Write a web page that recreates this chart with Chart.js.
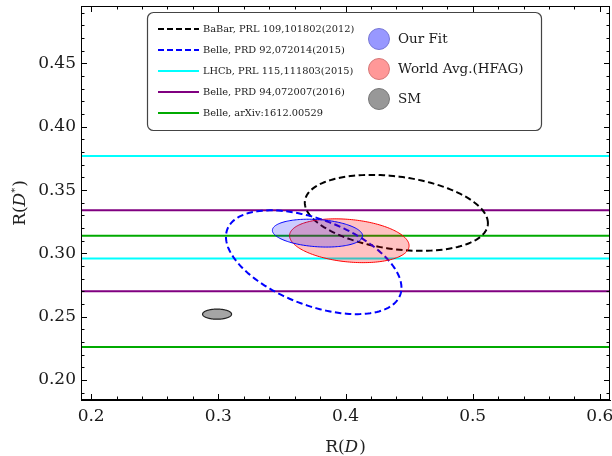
<!DOCTYPE html>
<html>
<head>
<meta charset="utf-8">
<script src="https://cdn.jsdelivr.net/npm/chart.js@4.4.0/dist/chart.umd.min.js"></script>
<style>
html,body{margin:0;padding:0;background:#fff;}
#wrap{position:relative;width:612px;height:456px;}
</style>
</head>
<body>
<div id="wrap"><canvas id="c" width="612" height="456"></canvas></div>
<script>
// ---- axis tick labels ----
const xTickValues = [0.2, 0.3, 0.4, 0.5, 0.6];
const yTickValues = [0.20, 0.25, 0.30, 0.35, 0.40, 0.45];

// ---- horizontal measurement bands (R(D*) lower / upper edges) ----
const lhcbBand = [0.296, 0.377];
const belle2016Band = [0.270, 0.334];
const belle2017Band = [0.226, 0.314];

// ---- legend texts ----
const lineLegendLabels = ['BaBar, PRL 109,101802(2012)', 'Belle, PRD 92,072014(2015)', 'LHCb, PRL 115,111803(2015)', 'Belle, PRD 94,072007(2016)', 'Belle, arXiv:1612.00529'];
const blobLegendLabels = ['Our Fit', 'World Avg.(HFAG)', 'SM'];

// ---- 1-sigma ellipses: centre, sigma, correlation ----
const ellipseNames  = ['BaBar', 'Belle 2015', 'World Avg.(HFAG)', 'Our Fit', 'SM'];
const ellipseRD     = [0.440, 0.375, 0.403, 0.378, 0.299];
const ellipseRDs    = [0.332, 0.293, 0.310, 0.316, 0.252];
const ellipseSigRD  = [0.072, 0.069, 0.047, 0.0355, 0.0114];
const ellipseSigRDs = [0.030, 0.041, 0.0173, 0.011, 0.004];
const ellipseRho    = [-0.27, -0.49, -0.23, -0.2, 0];

const X_MIN = 0.192, X_MAX = 0.608, Y_MIN = 0.1842, Y_MAX = 0.4954;
const FONT = "'DejaVu Serif', serif";

function hline(v, color) {
  return { data: [{x: X_MIN, y: v}, {x: X_MAX, y: v}], borderColor: color, borderWidth: 2, pointRadius: 0, fill: false };
}

const ellipseStyles = [
  {stroke: '#000', width: 2, dash: [6.5, 3.5], fill: null},
  {stroke: '#0000ff', width: 2, dash: [6.5, 3.5], fill: null},
  {stroke: '#ff0000', width: 1, dash: [], fill: 'rgba(255,0,0,0.24)'},
  {stroke: '#0000ff', width: 1, dash: [], fill: 'rgba(0,0,255,0.2)'},
  {stroke: '#222', width: 1.2, dash: [], fill: 'rgb(165,165,165)'}
];

function ellipsePath(ctx, xs, ys, i) {
  const cx = ellipseRD[i], cy = ellipseRDs[i], sx = ellipseSigRD[i], sy = ellipseSigRDs[i], r = ellipseRho[i];
  const q = Math.sqrt(1 - r * r);
  ctx.beginPath();
  const N = 180;
  for (let k = 0; k <= N; k++) {
    const t = 2 * Math.PI * k / N;
    const x = cx + sx * Math.cos(t);
    const y = cy + sy * (r * Math.cos(t) + q * Math.sin(t));
    const px = xs.getPixelForValue(x), py = ys.getPixelForValue(y);
    if (k === 0) ctx.moveTo(px, py); else ctx.lineTo(px, py);
  }
  ctx.closePath();
}

const ellipsePlugin = {
  id: 'ellipses',
  afterDatasetsDraw(chart) {
    const ctx = chart.ctx, xs = chart.scales.x, ys = chart.scales.y, a = chart.chartArea;
    ctx.save();
    ctx.beginPath(); ctx.rect(a.left, a.top, a.right - a.left, a.bottom - a.top); ctx.clip();
    for (let i = 0; i < ellipseNames.length; i++) {
      const st = ellipseStyles[i];
      ellipsePath(ctx, xs, ys, i);
      if (st.fill) { ctx.fillStyle = st.fill; ctx.fill(); }
      ctx.setLineDash(st.dash);
      ctx.lineWidth = st.width;
      ctx.strokeStyle = st.stroke;
      ctx.stroke();
    }
    ctx.restore();
  }
};

const framePlugin = {
  id: 'frame',
  afterDraw(chart) {
    const ctx = chart.ctx, xs = chart.scales.x, ys = chart.scales.y, a = chart.chartArea;
    ctx.save();
    ctx.strokeStyle = '#000';
    ctx.lineWidth = 1;
    ctx.strokeRect(a.left + 0.5, a.top + 0.5, a.right - a.left - 1, a.bottom - a.top - 1);
    ctx.beginPath();
    // x ticks (inward, bottom and top)
    for (let k = -1; ; k++) {
      const v = 0.2 + k * 0.02;
      if (v > X_MAX) break;
      if (v < X_MIN) continue;
      const major = ((k % 5) + 5) % 5 === 0;
      const len = major ? 6 : 3.5;
      const px = Math.round(xs.getPixelForValue(v)) + 0.5;
      ctx.moveTo(px, a.bottom); ctx.lineTo(px, a.bottom - len);
      ctx.moveTo(px, a.top); ctx.lineTo(px, a.top + len);
    }
    // y ticks (inward, left and right)
    for (let k = -1; ; k++) {
      const v = 0.20 + k * 0.01;
      if (v > Y_MAX) break;
      if (v < Y_MIN) continue;
      const major = ((k % 5) + 5) % 5 === 0;
      const len = major ? 6 : 3.5;
      const py = Math.round(ys.getPixelForValue(v)) + 0.5;
      ctx.moveTo(a.left, py); ctx.lineTo(a.left + len, py);
      ctx.moveTo(a.right, py); ctx.lineTo(a.right - len, py);
    }
    ctx.stroke();

    // axis titles
    ctx.fillStyle = '#222';
    ctx.textBaseline = 'alphabetic';
    const fs = 17;
    function drawParts(parts, startX, baseY) {
      let x = startX;
      for (const p of parts) {
        ctx.font = (p.it ? 'italic ' : '') + (p.size || fs) + 'px ' + FONT;
        ctx.fillText(p.t, x, baseY + (p.dy || 0));
        x += ctx.measureText(p.t).width + (p.gap || 0);
      }
    }
    function widthParts(parts) {
      let w = 0;
      for (const p of parts) {
        ctx.font = (p.it ? 'italic ' : '') + (p.size || fs) + 'px ' + FONT;
        w += ctx.measureText(p.t).width + (p.gap || 0);
      }
      return w;
    }
    const xTitle = [{t: 'R('}, {t: 'D', it: true, gap: 1}, {t: ')'}];
    const wx = widthParts(xTitle);
    drawParts(xTitle, (a.left + a.right) / 2 - wx / 2, 452);

    const yTitle = [{t: 'R('}, {t: 'D', it: true}, {t: '*', size: 10, dy: -7, gap: 1}, {t: ')'}];
    const wy = widthParts(yTitle);
    ctx.save();
    ctx.translate(25, (a.top + a.bottom) / 2);
    ctx.rotate(-Math.PI / 2);
    drawParts(yTitle, -wy / 2, 0);
    ctx.restore();

    // legend box
    const L = 147.5, T = 12.5, R = 541.5, B = 130.5, rad = 6;
    ctx.beginPath();
    ctx.moveTo(L + rad, T);
    ctx.arcTo(R, T, R, B, rad);
    ctx.arcTo(R, B, L, B, rad);
    ctx.arcTo(L, B, L, T, rad);
    ctx.arcTo(L, T, R, T, rad);
    ctx.closePath();
    ctx.fillStyle = '#fff';
    ctx.fill();
    ctx.lineWidth = 1.2;
    ctx.strokeStyle = '#444';
    ctx.stroke();

    const lineStyles = [
      {c: '#000', dash: [6, 3]},
      {c: '#0000ff', dash: [6, 3]},
      {c: '#00ffff', dash: []},
      {c: '#800080', dash: []},
      {c: '#00aa00', dash: []}
    ];
    ctx.textBaseline = 'middle';
    for (let i = 0; i < lineLegendLabels.length; i++) {
      const y = 29 + i * 21;
      ctx.beginPath();
      ctx.setLineDash(lineStyles[i].dash);
      ctx.strokeStyle = lineStyles[i].c;
      ctx.lineWidth = 2;
      ctx.moveTo(158, y); ctx.lineTo(199, y);
      ctx.stroke();
      ctx.setLineDash([]);
      ctx.font = '9.8px ' + FONT;
      ctx.fillStyle = '#1a1a1a';
      ctx.fillText(lineLegendLabels[i], 203, y);
    }
    const blobFill = ['rgb(152,152,255)', 'rgb(255,152,152)', 'rgb(152,152,152)'];
    const blobEdge = ['rgb(120,120,215)', 'rgb(215,120,120)', 'rgb(120,120,120)'];
    for (let i = 0; i < blobLegendLabels.length; i++) {
      const y = 39 + i * 30;
      ctx.beginPath();
      ctx.arc(379, y, 10.5, 0, 2 * Math.PI);
      ctx.fillStyle = blobFill[i];
      ctx.fill();
      ctx.lineWidth = 1;
      ctx.strokeStyle = blobEdge[i];
      ctx.stroke();
      ctx.font = '13.5px ' + FONT;
      ctx.fillStyle = '#1a1a1a';
      ctx.fillText(blobLegendLabels[i], 398, y);
    }
    ctx.restore();
  }
};

function zeroPad(s) { s.paddingTop = 0; s.paddingBottom = 0; s.paddingLeft = 0; s.paddingRight = 0; }

new Chart(document.getElementById('c'), {
  type: 'line',
  data: {
    datasets: [
      hline(belle2017Band[0], '#00aa00'),
      hline(belle2016Band[0], '#800080'),
      hline(lhcbBand[0], '#00ffff'),
      hline(belle2017Band[1], '#00aa00'),
      hline(belle2016Band[1], '#800080'),
      hline(lhcbBand[1], '#00ffff')
    ]
  },
  options: {
    responsive: false,
    animation: false,
    events: [],
    layout: { padding: { left: 0, right: 2, top: 6, bottom: 0 } },
    plugins: { legend: { display: false }, tooltip: { enabled: false } },
    scales: {
      x: {
        type: 'linear', min: X_MIN, max: X_MAX,
        grid: { display: false, drawTicks: false },
        border: { display: true, color: '#000', width: 1 },
        afterBuildTicks(s) { s.ticks = xTickValues.map(v => ({value: v})); },
        afterFit(s) { s.height = 56; zeroPad(s); },
        ticks: { autoSkip: false, maxRotation: 0, padding: 6, color: '#1a1a1a', font: { family: FONT, size: 17 },
                 callback: v => v.toFixed(1) }
      },
      y: {
        type: 'linear', min: Y_MIN, max: Y_MAX,
        grid: { display: false, drawTicks: false },
        border: { display: true, color: '#000', width: 1 },
        afterBuildTicks(s) { s.ticks = yTickValues.map(v => ({value: v})); },
        afterFit(s) { s.width = 81; zeroPad(s); },
        ticks: { autoSkip: false, padding: 5, color: '#1a1a1a', font: { family: FONT, size: 17 },
                 callback: v => v.toFixed(2) }
      }
    }
  },
  plugins: [ellipsePlugin, framePlugin]
});
</script>
</body>
</html>
